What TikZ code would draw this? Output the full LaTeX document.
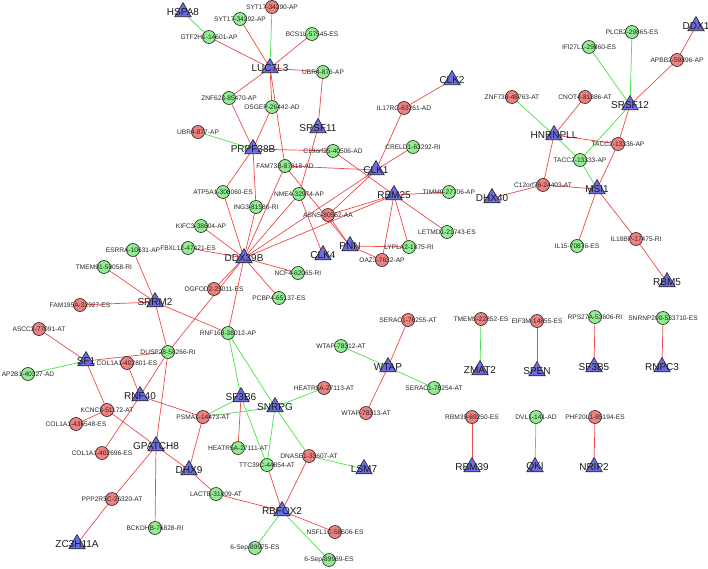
\documentclass[tikz,border=0pt]{standalone}
\usepackage{fontspec}
\setmainfont{Liberation Sans}
\usetikzlibrary{shapes.geometric,backgrounds}
\definecolor{cr}{RGB}{240,128,128}
\definecolor{cg}{RGB}{144,238,144}
\definecolor{tb}{RGB}{108,108,228}
\definecolor{er}{RGB}{240,72,72}
\definecolor{eg}{RGB}{72,225,72}
\tikzset{
  rc/.style={circle,draw=black!85,fill=cr,minimum size=13pt,inner sep=0pt,line width=0.6pt},
  gc/.style={circle,draw=black!85,fill=cg,minimum size=13pt,inner sep=0pt,line width=0.6pt},
  tri/.style={regular polygon,regular polygon sides=3,draw=black!85,fill=tb,minimum size=19pt,inner sep=0pt,line width=0.6pt},
  sl/.style={font=\fontsize{6.6}{7}\selectfont,text=black!85,inner sep=0pt},
  bl/.style={font=\fontsize{10}{11}\selectfont,text=black!90,inner sep=0pt},
  re/.style={draw=er,line width=0.7pt},
  ge/.style={draw=eg,line width=0.7pt},
}
\newcommand\rcn[3]{\node[rc,label={[sl]center:#3}] (#1) at (#2) {};}
\newcommand\gcn[3]{\node[gc,label={[sl]center:#3}] (#1) at (#2) {};}
\newcommand\trn[3]{\node[tri,label={[bl]center:#3}] (#1) at (#2) {};}
\newcommand\ER[2]{\draw[re] (#1.center) -- (#2.center);}
\newcommand\EG[2]{\draw[ge] (#1.center) -- (#2.center);}
\begin{document}
\begin{tikzpicture}[x=1pt,y=-1pt]
\useasboundingbox (0,0) rectangle (708,569);
% triangles
\trn{hspa}{183,12}{HSPA8}
\trn{luc}{270,68}{LUC7L3}
\trn{srsf11}{318,128}{SRSF11}
\trn{clk2}{452,80}{CLK2}
\trn{clk1}{376,170}{CLK1}
\trn{prpf}{253,149}{PRPF38B}
\trn{ddx1}{696,26}{DDX1}
\trn{srsf12}{630,105}{SRSF12}
\trn{hnrnpll}{554,135}{HNRNPLL}
\trn{msi1}{597,189}{MSI1}
\trn{dhx40}{492,198}{DHX40}
\trn{rbm5}{667,282}{RBM5}
\trn{rbm25}{394,195}{RBM25}
\trn{pnn}{350,246}{PNN}
\trn{clk4}{323,255}{CLK4}
\trn{ddx39b}{244,258}{DDX39B}
\trn{srrm2}{155,302}{SRRM2}
\trn{sf1}{86,361}{SF1}
\trn{rnf40}{140,396}{RNF40}
\trn{gpatch8}{156,446}{GPATCH8}
\trn{dhx9}{189,470}{DHX9}
\trn{zc3h11a}{77,544}{ZC3H11A}
\trn{sf3b6}{241,397}{SF3B6}
\trn{snrpg}{275,407}{SNRPG}
\trn{lsm7}{364,469}{LSM7}
\trn{rbfox2}{282,511}{RBFOX2}
\trn{wtap}{388,367}{WTAP}
\trn{zmat2}{480,370}{ZMAT2}
\trn{spen}{537,371}{SPEN}
\trn{sf3b5}{594,367}{SF3B5}
\trn{rnpc3}{662,367}{RNPC3}
\trn{rbm39}{472,467}{RBM39}
\trn{qki}{535,467}{QKI}
\trn{nrip2}{594,467}{NRIP2}
% circles
\rcn{syt90}{272,7}{SYT17-34290-AP}
\gcn{syt92}{240,19}{SYT17-34292-AP}
\gcn{gtf}{209,37}{GTF2H1-14601-AP}
\gcn{bcs}{312,34}{BCS1L-57545-ES}
\gcn{ubr876}{323,72}{UBR4-876-AP}
\gcn{znf623}{229,98}{ZNF623-85470-AP}
\gcn{osgep}{272,107}{OSGEP-26442-AD}
\rcn{ubr877}{198,132}{UBR4-877-AP}
\gcn{c19}{333,151}{C19orf25-40506-AD}
\rcn{il17}{404,108}{IL17RC-63261-AD}
\gcn{creld}{413,147}{CRELD1-63292-RI}
\gcn{fam73}{285,166}{FAM73B-87818-AD}
\gcn{nme4}{299,194}{NME4-32974-AP}
\gcn{atp5}{223,192}{ATP5A1-308060-ES}
\gcn{ing3}{256,207}{ING3-81586-RI}
\rcn{asns}{328,215}{ASNS-80562-AA}
\gcn{timm}{449,192}{TIMM9-27706-AP}
\gcn{letm}{447,232}{LETMD1-21743-ES}
\gcn{lypla}{409,247}{LYPLA2-1075-RI}
\rcn{oaz}{382,260}{OAZ3-7632-AP}
\gcn{kifc}{201,226}{KIFC3-38604-AP}
\gcn{fbxl}{188,248}{FBXL12-47421-ES}
\gcn{esrra}{133,250}{ESRRA-10631-AP}
\gcn{tmem91}{104,267}{TMEM91-50058-RI}
\rcn{ogfod}{214,289}{OGFOD2-25011-ES}
\gcn{ncf4}{298,273}{NCF4-62065-RI}
\gcn{pcbp}{279,298}{PCBP4-65137-ES}
\rcn{fam195}{80,305}{FAM195A-32927-ES}
\gcn{rnf168}{228,333}{RNF168-38012-AP}
\rcn{ascc}{39,329}{ASCC3-77091-AT}
\gcn{dusp}{168,352}{DUSP28-58266-RI}
\rcn{col801}{127,363}{COL1A1-402801-ES}
\gcn{ap2b1}{28,374}{AP2B1-40327-AD}
\rcn{kcnc}{107,410}{KCNC3-51172-AT}
\rcn{col548}{76,424}{COL1A1-436548-ES}
\rcn{col696}{102,453}{COL1A1-402696-ES}
\rcn{psma}{203,417}{PSMA1-14473-AT}
\rcn{ppp}{112,499}{PPP2R5C-26320-AT}
\gcn{bckdhb}{155,528}{BCKDHB-76828-RI}
\gcn{lactb}{216,494}{LACTB-31009-AT}
\gcn{heat111}{238,448}{HEATR5A-27111-AT}
\rcn{heat113}{324,388}{HEATR5A-27113-AT}
\gcn{ttc}{267,465}{TTC39C-44854-AT}
\rcn{dnase}{309,456}{DNASE1-33607-AT}
\rcn{nsfl}{335,532}{NSFL1C-58506-ES}
\gcn{sep75}{255,548}{6-Sep-89975-ES}
\gcn{sep69}{329,560}{6-Sep-89969-ES}
\rcn{serac55}{408,320}{SERAC1-78255-AT}
\gcn{wtap12}{341,346}{WTAP-78312-AT}
\gcn{serac54}{434,388}{SERAC1-78254-AT}
\rcn{wtap13}{366,413}{WTAP-78313-AT}
\rcn{tmem5}{481,319}{TMEM5-22852-ES}
\rcn{eif3m}{537,321}{EIF3M-14855-ES}
\gcn{rps27}{595,317}{RPS27A-53606-RI}
\gcn{snrnp}{663,318}{SNRNP200-533710-ES}
\rcn{rbm39e}{472,417}{RBM39-69250-ES}
\gcn{dvl1}{536,417}{DVL1-141-AD}
\rcn{phf}{595,417}{PHF20L1-85194-ES}
\rcn{znf738}{512,97}{ZNF738-48763-AT}
\rcn{cnot}{585,97}{CNOT4-81886-AT}
\gcn{ifi}{589,47}{IFI27L1-29860-ES}
\gcn{plcb}{632,32}{PLCB2-29865-ES}
\rcn{apbb}{677,60}{APBB2-59896-AP}
\rcn{tacc36}{618,144}{TACC2-13336-AP}
\gcn{tacc33}{580,160}{TACC2-13333-AP}
\rcn{c12}{543,185}{C12orf76-24403-AT}
\gcn{il15}{577,246}{IL15-70876-ES}
\rcn{il18}{636,239}{IL18BP-17475-RI}
\begin{pgfonlayer}{background}
\EG{hspa}{gtf} \ER{gtf}{luc} \EG{syt90}{luc} \ER{syt92}{luc} \ER{bcs}{luc}
\ER{ubr876}{luc} \ER{znf623}{luc} \ER{znf623}{prpf} \ER{osgep}{luc} \ER{osgep}{prpf}
\ER{luc}{fam73} \ER{ubr876}{srsf11} \EG{ubr877}{prpf} \ER{prpf}{c19} \ER{c19}{rbm25}
\ER{fam73}{clk1} \ER{srsf11}{nme4} \ER{il17}{clk2} \ER{il17}{clk1} \ER{creld}{clk1}
\ER{clk1}{asns} \ER{clk1}{ddx39b} \ER{fam73}{ddx39b} \ER{nme4}{ddx39b} \ER{nme4}{clk4}
\ER{fam73}{pnn} \ER{asns}{pnn} \ER{asns}{rbm25} \ER{ddx39b}{rbm25}
\ER{atp5}{prpf} \ER{atp5}{ddx39b} \ER{ing3}{prpf} \ER{ing3}{ddx39b} \ER{kifc}{ddx39b}
\ER{fbxl}{ddx39b} \ER{ogfod}{ddx39b} \ER{dusp}{ddx39b} \ER{ncf4}{ddx39b} \ER{pcbp}{ddx39b}
\ER{rnf168}{ddx39b} \ER{rbm25}{timm} \ER{rbm25}{letm} \ER{rbm25}{lypla} \ER{rbm25}{oaz}
\ER{pnn}{lypla} \ER{pnn}{oaz}
\ER{esrra}{srrm2} \ER{tmem91}{srrm2} \ER{fam195}{srrm2} \ER{srrm2}{dusp} \ER{srrm2}{rnf168}
\ER{ascc}{sf1} \EG{ap2b1}{sf1} \ER{sf1}{dusp} \ER{sf1}{kcnc}
\ER{col801}{rnf40} \ER{dusp}{rnf40} \ER{dusp}{gpatch8} \ER{rnf40}{col696} \ER{rnf40}{psma}
\ER{kcnc}{col548} \ER{kcnc}{gpatch8} \ER{gpatch8}{dhx9} \ER{gpatch8}{ppp} \ER{gpatch8}{bckdhb}
\ER{ppp}{zc3h11a} \ER{dhx9}{psma} \ER{dhx9}{lactb} \ER{lactb}{rbfox2}
\EG{psma}{sf3b6} \EG{psma}{snrpg} \EG{rnf168}{sf3b6} \EG{rnf168}{snrpg} \ER{sf3b6}{heat111}
\EG{sf3b6}{ttc} \EG{snrpg}{heat113} \EG{snrpg}{ttc} \EG{snrpg}{dnase}
\ER{ttc}{rbfox2} \ER{dnase}{rbfox2} \EG{dnase}{lsm7} \ER{rbfox2}{nsfl} \EG{rbfox2}{sep75} \EG{rbfox2}{sep69}
\ER{serac55}{wtap} \EG{wtap12}{wtap} \EG{serac54}{wtap} \ER{wtap}{wtap13}
\EG{tmem5}{zmat2} \ER{eif3m}{spen} \ER{rps27}{sf3b5} \ER{snrnp}{rnpc3}
\ER{rbm39e}{rbm39} \EG{dvl1}{qki} \ER{phf}{nrip2}
\ER{ddx1}{apbb} \ER{apbb}{srsf12} \EG{plcb}{srsf12} \EG{ifi}{srsf12} \EG{srsf12}{tacc33}
\ER{srsf12}{tacc36} \EG{znf738}{hnrnpll} \ER{cnot}{hnrnpll} \ER{hnrnpll}{tacc36} \EG{hnrnpll}{tacc33}
\ER{hnrnpll}{c12} \EG{tacc33}{msi1} \ER{tacc36}{msi1} \ER{c12}{msi1} \ER{c12}{dhx40}
\ER{msi1}{il15} \ER{msi1}{il18} \ER{il18}{rbm5}
\end{pgfonlayer}
\end{tikzpicture}
\end{document}
